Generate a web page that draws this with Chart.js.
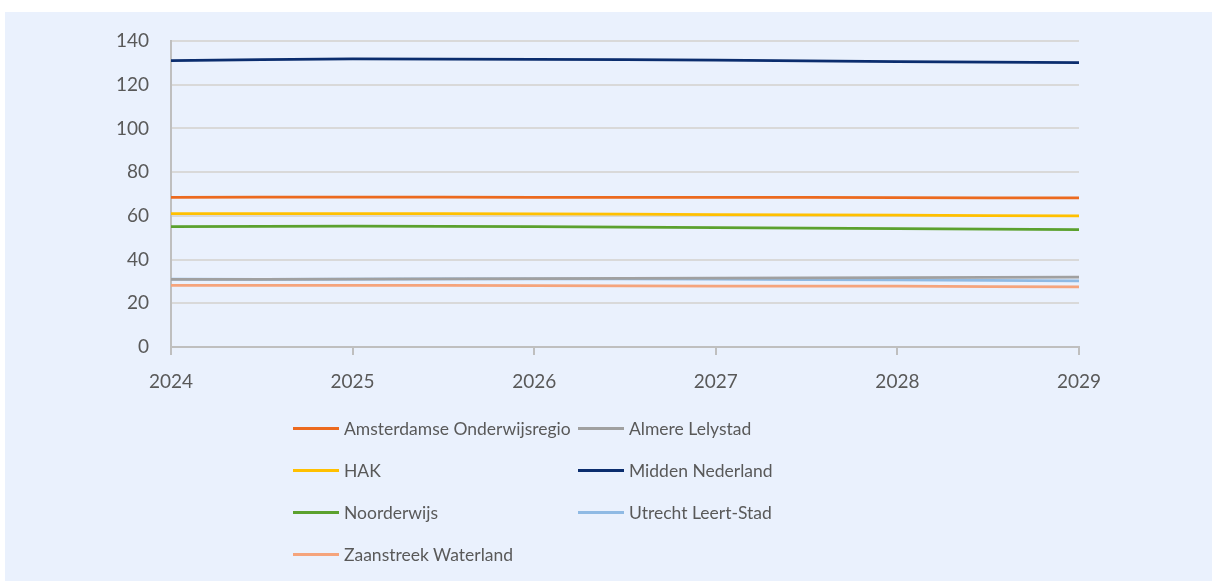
<!DOCTYPE html>
<html lang="nl">
<head>
    <meta charset="UTF-8">
    <title>Leerlingen per regio 2024-2029</title>
    <script src="https://cdn.jsdelivr.net/npm/chart.js"></script>
    <style>
        body {
            margin: 0;
            background: #ffffff;
            font-family: Lato, "Open Sans", sans-serif;
        }
        .panel {
            position: absolute;
            left: 5px;
            top: 12px;
            width: 1207px;
            height: 569px;
            background: #eaf1fd;
        }
        #chartBox {
            position: absolute;
            left: 0;
            top: 0;
            width: 1207px;
            height: 569px;
        }
        #legend {
            position: absolute;
            left: 288px;
            top: 395px;
            display: grid;
            grid-template-columns: 285px 285px;
            grid-auto-rows: 42px;
            color: #595959;
            font-size: 17.5px;
        }
        .item {
            display: flex;
            align-items: center;
            white-space: nowrap;
        }
        .swatch {
            flex-shrink: 0;
            width: 46px;
            height: 3px;
            margin-right: 5px;
        }
    </style>
</head>
<body>

<div class="panel">
    <div id="chartBox"><canvas id="myChart"></canvas></div>
    <div id="legend"></div>
</div>

<script>
    const years = ['2024', '2025', '2026', '2027', '2028', '2029'];

    const amsterdam = [68.5, 68.6, 68.5, 68.5, 68.3, 68.2];
    const almere = [30.9, 31.0, 31.3, 31.5, 31.7, 32.0];
    const hak = [61.0, 61.0, 60.9, 60.6, 60.3, 60.0];
    const midden = [131.0, 131.8, 131.6, 131.3, 130.6, 130.1];
    const noorderwijs = [55.1, 55.3, 55.1, 54.6, 54.2, 53.7];
    const utrecht = [31.0, 31.0, 31.2, 31.0, 30.7, 30.3];
    const zaanstreek = [28.2, 28.2, 28.1, 27.9, 27.8, 27.5];

    const yTicks = { min: 0, max: 140, step: 20 };

    function line(label, data, color) {
        return {
            label: label,
            data: data,
            borderColor: color,
            backgroundColor: color,
            borderWidth: 2.75,
            pointRadius: 0,
            tension: 0.3
        };
    }

    const ctx = document.getElementById('myChart').getContext('2d');
    const chart = new Chart(ctx, {
        type: 'line',
        data: {
            labels: years,
            datasets: [
                line('Amsterdamse Onderwijsregio', amsterdam, '#ec6a1f'),
                line('Almere Lelystad', almere, '#a0a0a0'),
                line('HAK', hak, '#ffc000'),
                line('Midden Nederland', midden, '#0b2d6e'),
                line('Noorderwijs', noorderwijs, '#5ba12e'),
                line('Utrecht Leert-Stad', utrecht, '#8fbae4'),
                line('Zaanstreek Waterland', zaanstreek, '#f5a47c')
            ]
        },
        options: {
            responsive: true,
            maintainAspectRatio: false,
            animation: false,
            layout: {
                padding: { left: 0, right: 133, top: 29, bottom: 184 }
            },
            plugins: {
                legend: { display: false },
                tooltip: { enabled: false }
            },
            scales: {
                x: {
                    offset: false,
                    afterFit: scale => {
                        scale.height = 50;
                        scale.paddingLeft = 0;
                        scale.paddingRight = 0;
                    },
                    grid: {
                        drawOnChartArea: false,
                        drawTicks: true,
                        tickLength: 8,
                        color: '#bfbfbf',
                        lineWidth: 2
                    },
                    border: { color: '#bfbfbf', width: 2 },
                    ticks: {
                        color: '#595959',
                        font: { family: 'Lato', size: 19 },
                        padding: 15,
                        maxRotation: 0
                    }
                },
                y: {
                    min: yTicks.min,
                    max: yTicks.max,
                    afterFit: scale => {
                        scale.width = 166;
                        scale.paddingTop = 0;
                        scale.paddingBottom = 0;
                    },
                    grid: {
                        color: '#d9d9d9',
                        lineWidth: 2,
                        drawTicks: false
                    },
                    border: { color: '#bfbfbf', width: 2 },
                    ticks: {
                        stepSize: yTicks.step,
                        color: '#595959',
                        font: { family: 'Lato', size: 19 },
                        padding: 22
                    }
                }
            }
        }
    });

    // legend in two columns, built from the datasets
    const legend = document.getElementById('legend');
    chart.data.datasets.forEach(ds => {
        const item = document.createElement('div');
        item.className = 'item';
        const sw = document.createElement('span');
        sw.className = 'swatch';
        sw.style.background = ds.borderColor;
        item.appendChild(sw);
        item.appendChild(document.createTextNode(ds.label));
        legend.appendChild(item);
    });
</script>

</body>
</html>
